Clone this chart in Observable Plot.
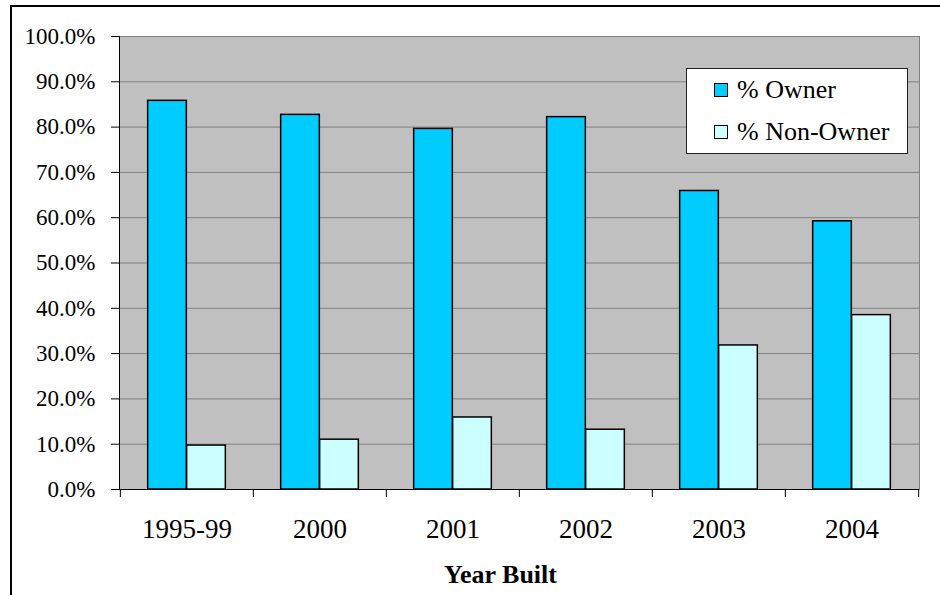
<!DOCTYPE html>
<html>
<head>
<meta charset="utf-8">
<script src="https://cdn.jsdelivr.net/npm/d3@7"></script>
<script src="https://cdn.jsdelivr.net/npm/@observablehq/plot@0.6"></script>
<style>
  html, body { margin: 0; padding: 0; background: #fff; overflow: hidden; }
  #chart { position: relative; width: 940px; height: 595px; font-family: "Liberation Serif", "Times New Roman", serif; color: #000; }
  #chart svg { display: block; }
  #edge { position: absolute; left: 10px; top: 5px; width: 1000px; height: 700px; border: 2px solid #000; pointer-events: none; }
  #key { position: absolute; left: 686px; top: 68px; width: 222px; height: 86px; box-sizing: border-box; background: #fff; border: 1px solid #222; }
  #key .row { position: absolute; left: 27px; height: 30px; display: flex; align-items: center; font-size: 26px; white-space: nowrap; }
  #key .sw { width: 12px; height: 12px; border: 1.5px solid #000; margin-right: 9px; }
</style>
</head>
<body>
<div id="chart"></div>
<script>
// Share of homes by year built, owner vs. non-owner occupied
const years = ["1995-99", "2000", "2001", "2002", "2003", "2004"];
const series = ["% Owner", "% Non-Owner"];
const owner = [0.858, 0.827, 0.796, 0.822, 0.659, 0.592];
const nonOwner = [0.097, 0.110, 0.159, 0.132, 0.318, 0.385];
const yTicks = [0, 0.1, 0.2, 0.3, 0.4, 0.5, 0.6, 0.7, 0.8, 0.9, 1.0];
const colors = ["#00CCFF", "#CCFFFF"];
const xTitle = "Year Built";

const table = years.flatMap((year, i) => [
  {year, series: series[0], value: owner[i]},
  {year, series: series[1], value: nonOwner[i]}
]);

const W = 940, H = 595, mL = 119, mR = 21, mT = 36, mB = 106;
const band = (W - mL - mR) / years.length;
const barW = 39;
const outer = (band - 2 * barW) / 2;

const chart = Plot.plot({
  width: W,
  height: H,
  marginLeft: mL,
  marginRight: mR,
  marginTop: mT,
  marginBottom: mB,
  style: {fontFamily: "Liberation Serif, Times New Roman, serif", color: "#000", background: "transparent"},
  x: {type: "band", domain: years, padding: 0, label: null},
  y: {domain: [0, 1], label: null},
  marks: [
    Plot.frame({fill: "#C0C0C0", stroke: "#808080"}),
    Plot.ruleY(yTicks.slice(1, -1), {stroke: "#808080", strokeWidth: 1}),
    Plot.barY(table.filter(d => d.series === series[0]), {
      x: "year", y: "value", fill: colors[0], stroke: "#000", strokeWidth: 1.5,
      insetLeft: outer, insetRight: band - outer - barW
    }),
    Plot.barY(table.filter(d => d.series === series[1]), {
      x: "year", y: "value", fill: colors[1], stroke: "#000", strokeWidth: 1.5,
      insetLeft: band - outer - barW, insetRight: outer
    }),
    Plot.ruleY([0], {stroke: "#000", strokeWidth: 1}),
    Plot.frame({anchor: "left", stroke: "#000"}),
    Plot.axisY({ticks: yTicks, tickFormat: d3.format(".1%"), tickSize: 8, tickPadding: 16, fontSize: 23}),
    Plot.axisX({tickSize: 0, tickPadding: 29, fontSize: 27}),
    Plot.axisX({tickSize: 8, tickFormat: () => "", dx: -band / 2}),
    Plot.axisX({ticks: [years[years.length - 1]], tickSize: 8, tickFormat: () => "", dx: band / 2}),
    Plot.text([xTitle], {text: d => d, frameAnchor: "bottom", lineAnchor: "top", dy: 75, dx: -19, fontWeight: "bold", fontSize: 26})
  ]
});

const root = document.getElementById("chart");
root.appendChild(chart);

// legend box
const key = document.createElement("div");
key.id = "key";
const rowTops = [6, 48];
series.forEach((name, i) => {
  const row = document.createElement("div");
  row.className = "row";
  row.style.top = rowTops[i] + "px";
  const sw = document.createElement("span");
  sw.className = "sw";
  sw.style.background = colors[i];
  const label = document.createElement("span");
  label.textContent = name;
  row.appendChild(sw);
  row.appendChild(label);
  key.appendChild(row);
});
root.appendChild(key);

const edge = document.createElement("div");
edge.id = "edge";
root.appendChild(edge);
</script>
</body>
</html>
